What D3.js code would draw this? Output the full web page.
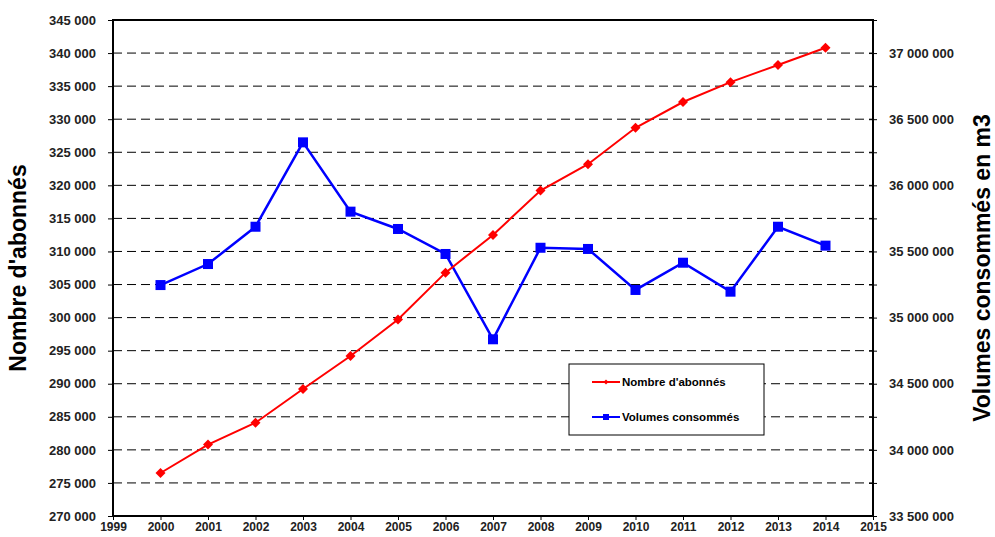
<!DOCTYPE html>
<html>
<head>
<meta charset="utf-8">
<script src="https://cdn.jsdelivr.net/npm/d3@7"></script>
<style>
  body { margin: 0; background: #fff; }
  text { font-family: Arial, "Liberation Sans", sans-serif; }
</style>
</head>
<body>
<script>
const years = [2000, 2001, 2002, 2003, 2004, 2005, 2006, 2007, 2008, 2009, 2010, 2011, 2012, 2013, 2014];
const abonnes = [276500, 280800, 284100, 289200, 294200, 299700, 306800, 312500, 319200, 323200, 328700, 332600, 335600, 338200, 340800];
const volumes = [35246000, 35405000, 35687000, 36325000, 35801000, 35670000, 35481000, 34836000, 35528000, 35519000, 35209000, 35415000, 35196000, 35687000, 35544000];
const leftTicks = d3.range(270000, 345001, 5000);
const rightTicks = d3.range(33500000, 37250001, 250000);
const xTicks = d3.range(1999, 2016);
const seriesNames = ["Nombre d'abonnés", "Volumes consommés"];

const width = 995, height = 537;
const margin = {top: 20, right: 122, bottom: 21, left: 113};

const svg = d3.select("body").append("svg")
    .attr("width", width)
    .attr("height", height);

const x = d3.scaleLinear().domain([1999, 2015]).range([margin.left, width - margin.right]);
const yL = d3.scaleLinear().domain([270000, 345000]).range([height - margin.bottom, margin.top]);
const yR = d3.scaleLinear().domain([33500000, 37250000]).range([height - margin.bottom, margin.top]);

const fmt = v => d3.format(",")(v).replace(/,/g, " ");

// grid
svg.append("g")
    .selectAll("line")
    .data(leftTicks.filter(d => d > 270000 && d < 345000))
    .enter().append("line")
    .attr("x1", x(1999)).attr("x2", x(2015))
    .attr("y1", d => yL(d)).attr("y2", d => yL(d))
    .attr("stroke", "#000").attr("stroke-width", 1)
    .attr("stroke-dasharray", "9,5");

// left axis
const gL = svg.append("g")
    .attr("transform", `translate(${margin.left},0)`)
    .call(d3.axisLeft(yL).tickValues(leftTicks).tickFormat(fmt).tickSize(5).tickPadding(12));
gL.select(".domain").remove();
gL.selectAll("text").attr("font-size", 13).attr("font-weight", "bold").attr("fill", "#222");

// right axis
const gR = svg.append("g")
    .attr("transform", `translate(${width - margin.right},0)`)
    .call(d3.axisRight(yR).tickValues(rightTicks)
        .tickFormat(d => d % 500000 === 0 ? fmt(d) : "").tickSize(4).tickPadding(12));
gR.select(".domain").remove();
gR.selectAll(".tick line").attr("x1", -4);
gR.selectAll("text").attr("font-size", 13).attr("font-weight", "bold").attr("fill", "#222");

// bottom axis
const gB = svg.append("g")
    .attr("transform", `translate(0,${height - margin.bottom})`)
    .call(d3.axisBottom(x).tickValues(xTicks).tickFormat(d3.format("d")).tickSize(4).tickPadding(2));
gB.select(".domain").remove();
gB.selectAll("text").attr("font-size", 12).attr("font-weight", "bold").attr("fill", "#222");

// frame
svg.append("rect")
    .attr("x", x(1999)).attr("y", yL(345000))
    .attr("width", x(2015) - x(1999)).attr("height", yL(270000) - yL(345000))
    .attr("fill", "none").attr("stroke", "#000").attr("stroke-width", 2);

// lines
const lineL = d3.line().x((d, i) => x(years[i])).y(d => yL(d));
const lineR = d3.line().x((d, i) => x(years[i])).y(d => yR(d));

svg.append("path").datum(volumes)
    .attr("d", lineR).attr("fill", "none")
    .attr("stroke", "#0000ff").attr("stroke-width", 2.5);
svg.append("g").selectAll("rect")
    .data(volumes).enter().append("rect")
    .attr("x", (d, i) => x(years[i]) - 5)
    .attr("y", d => yR(d) - 5)
    .attr("width", 10).attr("height", 10)
    .attr("fill", "#0000ff");

svg.append("path").datum(abonnes)
    .attr("d", lineL).attr("fill", "none")
    .attr("stroke", "#ff0000").attr("stroke-width", 2);
svg.append("g").selectAll("path")
    .data(abonnes).enter().append("path")
    .attr("transform", (d, i) => `translate(${x(years[i])},${yL(d)})`)
    .attr("d", "M0,-5L5,0L0,5L-5,0Z")
    .attr("fill", "#ff0000");

// legend
const legend = svg.append("g").attr("transform", "translate(569,364)");
legend.append("rect")
    .attr("width", 195).attr("height", 71)
    .attr("fill", "#fff").attr("stroke", "#000").attr("stroke-width", 1);
const colors = ["#ff0000", "#0000ff"];
const items = legend.selectAll(".item").data(seriesNames).enter().append("g")
    .attr("class", "item")
    .attr("transform", (d, i) => `translate(0,${18 + i * 35})`);
items.append("line")
    .attr("x1", 23).attr("x2", 51)
    .attr("stroke", (d, i) => colors[i]).attr("stroke-width", 2);
items.append("path")
    .attr("transform", "translate(37,0)")
    .attr("d", (d, i) => i === 0 ? "M0,-2.5L2.5,0L0,2.5L-2.5,0Z" : "M-3,-3H3V3H-3Z")
    .attr("fill", (d, i) => colors[i]);
items.append("text")
    .attr("x", 53).attr("y", 4)
    .attr("font-size", 11.5).attr("font-weight", "bold")
    .text(d => d);

// axis titles
svg.append("text")
    .attr("transform", `translate(26,${(margin.top + height - margin.bottom) / 2}) rotate(-90)`)
    .attr("text-anchor", "middle")
    .attr("font-size", 23).attr("font-weight", "bold")
    .text("Nombre d'abonnés");
svg.append("text")
    .attr("transform", `translate(990,${(margin.top + height - margin.bottom) / 2}) rotate(-90)`)
    .attr("text-anchor", "middle")
    .attr("font-size", 23).attr("font-weight", "bold")
    .text("Volumes consommés en m3");
</script>
</body>
</html>
